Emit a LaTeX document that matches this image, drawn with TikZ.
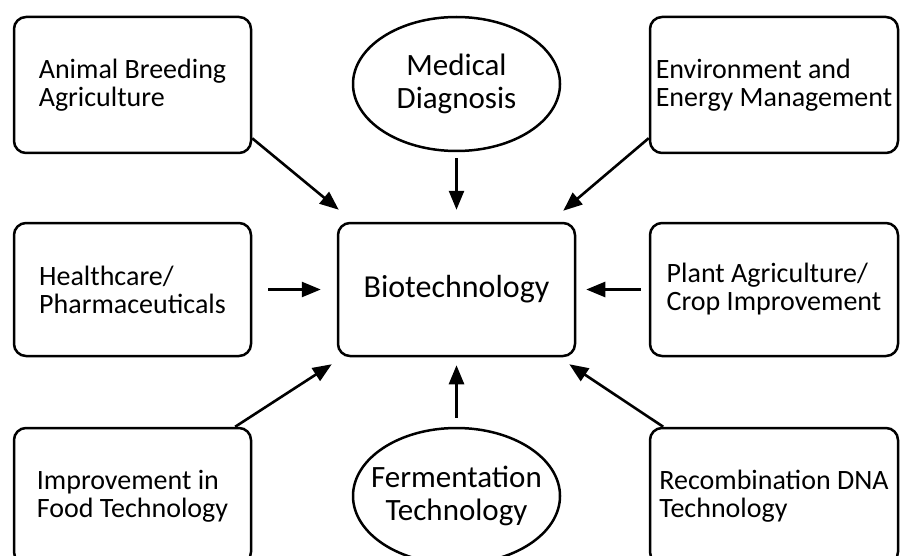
\documentclass[tikz,border=0pt]{standalone}
\usepackage{fontspec}
\setmainfont{Carlito}
\usepackage{tikz}
\usetikzlibrary{shapes,arrows.meta,positioning,calc}

\begin{document}
\begin{tikzpicture}[x=1pt, y=-1pt,
  field/.style={draw, line width=2.5pt, rounded corners=12pt, align=left, font=\fontsize{28}{28}\selectfont},
  oval/.style={draw, ellipse, line width=2.5pt, align=center, inner xsep=-14pt, inner ysep=0pt, font=\fontsize{31}{33}\selectfont},
  arr/.style={line width=2.6pt, -{Triangle[length=19pt,width=15pt]}}]
% Page frame
\clip (0,0) rectangle (901,556);
\fill[white] (0,0) rectangle (901,556);

% Central node
\node[field, minimum width=237pt, minimum height=133pt, font=\fontsize{32}{33}\selectfont] (bio) at (456.5,289.5) {Biotechnology};

% Top row
\node[field, minimum width=237pt, minimum height=136pt] (ab) at (132.5,85) {Animal Breeding\\Agriculture};
\node[oval, minimum width=207pt, minimum height=134pt] (med) at (456.5,84) {Medical\\Diagnosis};
\node[field, minimum width=248pt, minimum height=136pt] (env) at (774,85) {Environment and\\Energy Management};

% Middle row
\node[field, minimum width=237pt, minimum height=133pt] (hc) at (132.5,289.5) {Healthcare/\\Pharmaceuticals};
\node[field, minimum width=248pt, minimum height=133pt] (pa) at (774,289.5) {Plant Agriculture/\\Crop Improvement};

% Bottom row (cut by the page edge)
\node[field, minimum width=237pt, minimum height=136pt] (food) at (132.5,496) {Improvement in\\Food Technology};
\node[oval, minimum width=207pt, minimum height=136pt] (fer) at (456.5,496) {Fermentation\\Technology};
\node[field, minimum width=248pt, minimum height=136pt] (rec) at (774,496) {Recombination DNA\\Technology};

% Arrows into the centre
\draw[arr] (ab.-24) -- ([xshift=2pt,yshift=12pt]bio.north west);
\draw[arr, shorten <=6pt, shorten >=12pt] (med) -- (bio);
\draw[arr] (env.203) -- ([xshift=-13pt,yshift=11pt]bio.north east);
\draw[arr, shorten <=16pt, shorten >=16pt] (hc) -- (bio);
\draw[arr, shorten <=8pt, shorten >=10pt] (pa) -- (bio);
\draw[arr] (food.34) -- ([xshift=-5pt,yshift=-7pt]bio.south west);
\draw[arr, shorten <=9pt, shorten >=8pt] (fer) -- (bio);
\draw[arr] (rec.148.5) -- ([xshift=-7pt,yshift=-7pt]bio.south east);

\end{tikzpicture}
\end{document}
